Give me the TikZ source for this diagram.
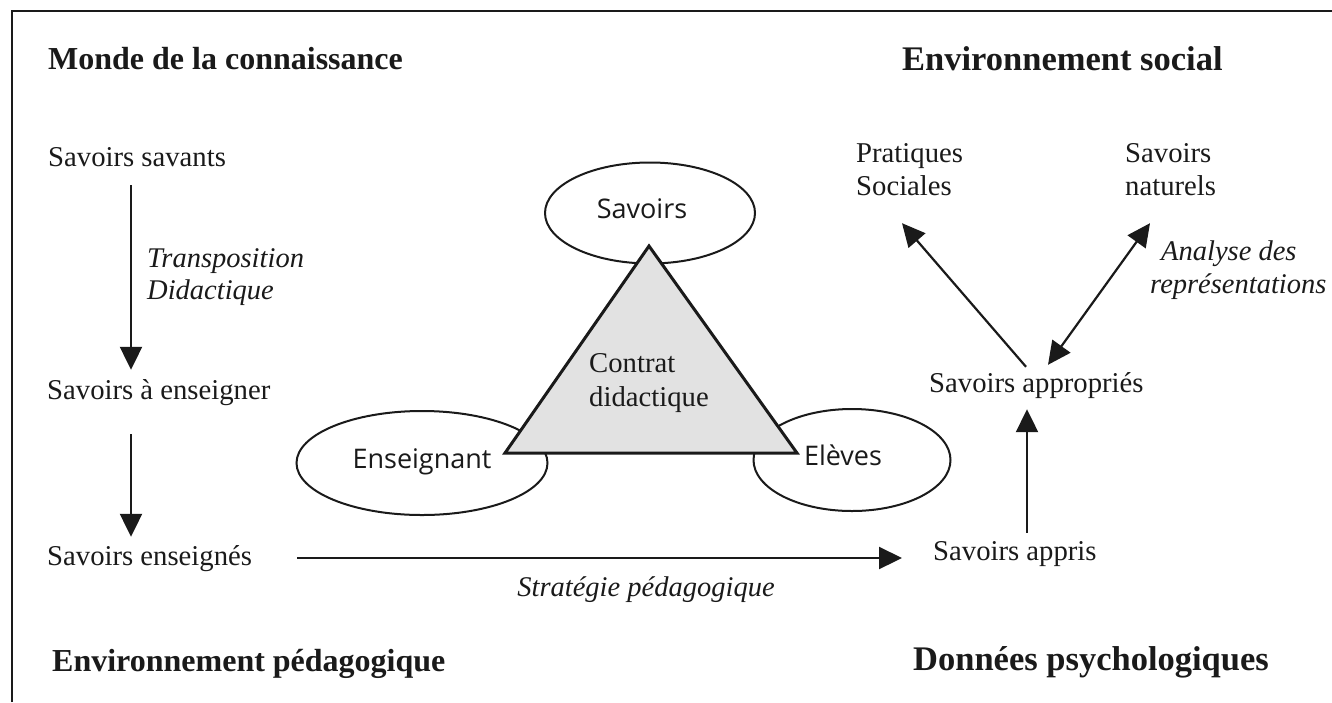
\documentclass[tikz,border=0pt]{standalone}
\usepackage{fontspec}
\setmainfont{Liberation Serif}
\newfontfamily\roundfont{Open Sans}
\usetikzlibrary{arrows.meta,shapes.geometric,calc}

\definecolor{ink}{HTML}{1A1A1A}
\definecolor{trifill}{HTML}{E2E2E2}

\begin{document}
\begin{tikzpicture}[x=1pt,y=-1pt,
  txt/.style={inner sep=0pt, text=ink, font=\fontsize{28.7}{33.5}\selectfont, text height=20pt, text depth=6pt},
  txtm/.style={inner sep=0pt, text=ink, font=\fontsize{28.7}{33.5}\selectfont, align=left},
  head/.style={inner sep=0pt, text=ink, anchor=base west, font=\fontsize{32}{38}\selectfont\bfseries},
  headr/.style={head, font=\fontsize{34.5}{40}\selectfont\bfseries},
  note/.style={inner sep=0pt, text=ink, font=\fontsize{28.5}{32.5}\selectfont\itshape, align=left},
  ring/.style={draw=ink, ellipse, line width=2pt, inner sep=0pt, text=ink,
    font=\roundfont\fontsize{27}{30}\selectfont, text height=19pt, text depth=8pt},
  arr/.style={draw=ink, line width=2.2pt, -{Triangle[length=23pt,width=22pt]}},
  darr/.style={draw=ink, line width=2.2pt, {Triangle[length=23pt,width=22pt]}-{Triangle[length=23pt,width=22pt]}},
]
\useasboundingbox (0,0) rectangle (1332,702);
\fill[white] (0,0) rectangle (1332,702);

% frame
\draw[ink, line width=1.6pt] (12,702) -- (12,11) -- (1332,11);

% headings
\node[head] (monde) at (48,69) {Monde de la connaissance};
\node[headr] (social) at (902,70) {Environnement social};
\node[head] (peda) at (52,671) {Environnement pédagogique};
\node[headr] (psy) at (913,670) {Données psychologiques};

% left column
\node[txt, anchor=base west] (savants) at (48,166) {Savoirs savants};
\node[txt, anchor=base west] (aens) at (47,399) {Savoirs à enseigner};
\node[txt, anchor=base west] (enseignes) at (47,565) {Savoirs enseignés};
\node[note, anchor=north west] (transp) at (147,248) {Transposition\\Didactique};

\coordinate (ax) at (131,0);
\draw[arr] ($(ax |- savants.south)+(0,13)$) -- ($(ax |- aens.north)+(0,-9)$);
\draw[arr] ($(ax |- aens.south)+(0,29)$) -- ($(ax |- enseignes.north)+(0,-8)$);

% right side
\node[txt, anchor=base west] (appris) at (933,560) {Savoirs appris};
\node[txt, anchor=base west] (approp) at (929,392) {Savoirs appropriés};
\node[txtm, anchor=north west] (prat) at (856,143) {Pratiques\\Sociales};
\node[txtm, anchor=north west] (natur) at (1125,143) {Savoirs\\naturels};
\node[note, anchor=north west] (analyse) at (1150,241) {\hspace*{11pt}Analyse des\\représentations};

\draw[arr] ($(enseignes.east)+(45,0)$) -- ($(enseignes.east -| appris.west)+(-31,0)$);
\node[note, anchor=base] (strat) at (646,596) {Stratégie pédagogique};

\coordinate (ux) at (1027,0);
\draw[arr] ($(ux |- appris.north)+(0,-7)$) -- ($(ux |- approp.south)+(0,11)$);
\draw[arr] ($(approp.north west)+(97,-5)$) -- ($(prat.south west)+(46,27)$);
\draw[darr] ($(approp.north west)+(119,-7)$) -- ($(natur.south west)+(25,27)$);

% didactic triangle
\node[ring, minimum width=210pt, minimum height=101pt] (savoirs) at (650,213) {Savoirs\hspace*{16pt}};
\node[ring, minimum width=251pt, minimum height=104pt] (enseignant) at (422,463) {Enseignant};
\node[ring, minimum width=197pt, minimum height=102pt] (eleves) at (852,460) {Elèves\hspace*{18pt}};
\draw[draw=ink, fill=trifill, line width=3pt, line join=miter] (649,246) -- (797,453) -- (505,453) -- cycle;
\node[txtm, anchor=west] (contrat) at (589,383) {Contrat\\didactique};
\end{tikzpicture}
\end{document}
